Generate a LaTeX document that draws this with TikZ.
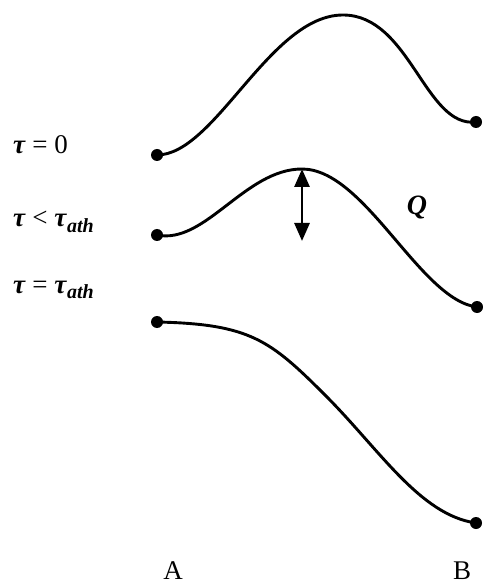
\documentclass[tikz,border=0pt]{standalone}
\usepackage{fontspec}
\setmainfont{Liberation Serif}
\usetikzlibrary{arrows.meta}
\newcommand{\tauit}{\textbf{\textit{τ}}}
\newcommand{\tauath}{\tauit\raisebox{-.45ex}{\fontsize{10}{12}\selectfont\textbf{\textit{ath}}}}
\begin{document}
\begin{tikzpicture}[x=.5pt,y=-.5pt,line cap=round,line join=round,
  kurve/.style={line width=1.45pt},
  punkt/.style={circle,fill=black,inner sep=0pt,minimum size=6pt},
  marke/.style={font=\fontsize{13.5}{15}\selectfont,anchor=base west},
  ende/.style={font=\fontsize{13.5}{15}\selectfont,anchor=base}]
\useasboundingbox (0,0) rectangle (482,582);
% Drei Zustände zwischen A und B.
\node[punkt] (a1) at (157,155){}; \node[punkt] (b1) at (476,122){};
\node[punkt] (a2) at (157,235){}; \node[punkt] (b2) at (477,307){};
\node[punkt] (a3) at (157,322){}; \node[punkt] (b3) at (476,523){};
\coordinate (s1) at (343,15);
\coordinate (s2) at (302,169);
\coordinate (u2) at (302,241);
\coordinate (w3) at (325,395);
\draw[kurve] (a1.center) .. controls (215,155) and (270,15) .. (s1)
 .. controls (410,15) and (425,128) .. (b1.center);
\draw[kurve] (a2.center) .. controls (205,245) and (245,169) .. (s2)
 .. controls (365,169) and (420,300) .. (b2.center);
\draw[kurve] (a3.center) .. controls (250,324) and (270,340) .. (w3)
 .. controls (380,450) and (420,515) .. (b3.center);
% Barrierenhöhe
\draw[kurve,{Triangle[width=7.5pt,length=9pt]}-{Triangle[width=7.5pt,length=9pt]}] (s2) -- (u2);
\node[font=\fontsize{14}{15}\selectfont\bfseries\itshape] (q) at (417,208){Q};
% Beschriftungen
\node[marke] (t1) at (6,154){\tauit{} = 0};
\node[marke] (t2) at (6,227){\tauit{} < \tauath};
\node[marke] (t3) at (6,293){\tauit{} = \tauath};
\node[ende] (pa) at (173,579){A};
\node[ende] (pb) at (462,579){B};
\end{tikzpicture}
\end{document}
